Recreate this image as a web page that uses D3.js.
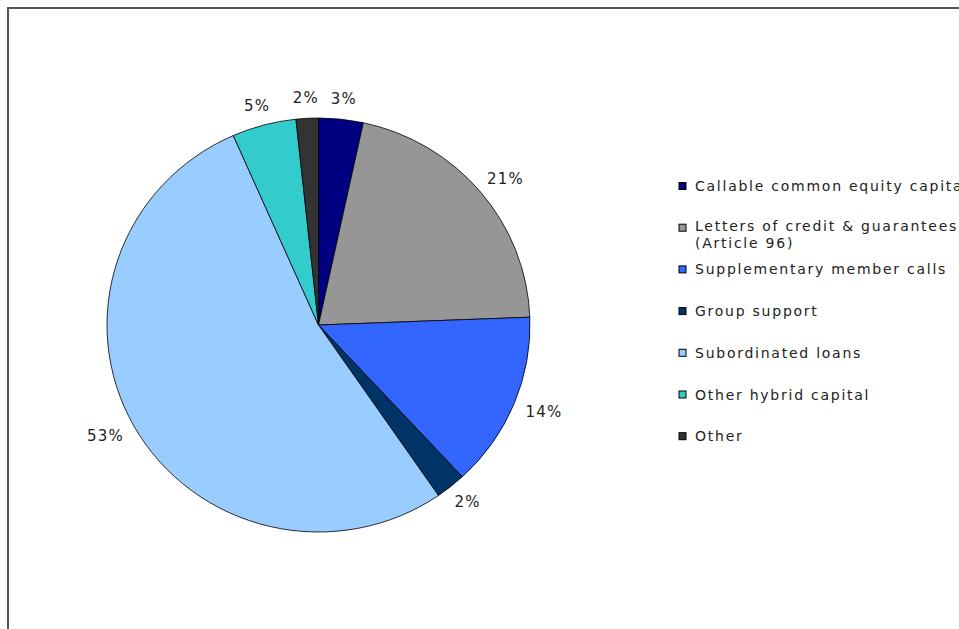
<!DOCTYPE html>
<html>
<head>
<meta charset="utf-8">
<script src="https://cdn.jsdelivr.net/npm/d3@7"></script>
<style>
  html, body { margin: 0; padding: 0; background: #fff; }
  svg { display: block; }
  text { font-family: "DejaVu Sans", Verdana, sans-serif; fill: #222; }
</style>
</head>
<body>
<svg id="chart" width="959" height="629"></svg>
<script>
const categories = [
  "Callable common equity capital",
  "Letters of credit & guarantees|(Article 96)",
  "Supplementary member calls",
  "Group support",
  "Subordinated loans",
  "Other hybrid capital",
  "Other"
];
const values = [3.4, 21.0, 13.7, 2.3, 53.0, 4.9, 1.7];
const colors = ["#000080", "#969696", "#3366FF", "#003366", "#99CCFF", "#33CCCC", "#333333"];

const W = 959, H = 629;
const svg = d3.select("#chart");

// frame
svg.append("rect").attr("x", 8).attr("y", 8).attr("width", W + 10).attr("height", H + 10)
  .attr("fill", "none").attr("stroke", "#555").attr("stroke-width", 2);

const cx = 318.5, cy = 325, Rx = 211.5, Ry = 207;
const total = d3.sum(values);
const pie = d3.pie().sort(null).value(d => d)(values);
const arc = d3.arc().innerRadius(0).outerRadius(Rx);

const g = svg.append("g").attr("transform", `translate(${cx},${cy}) scale(1,${Ry / Rx})`);
g.selectAll("path").data(pie).enter().append("path")
  .attr("d", arc)
  .attr("fill", (d, i) => colors[i])
  .attr("stroke", "#000")
  .attr("stroke-width", 0.8)
  .attr("vector-effect", "non-scaling-stroke");

// labels
const fmt = v => Math.round(v / total * 100) + "%";
const lg = svg.append("g").attr("transform", `translate(${cx},${cy})`);
const gap = 14, h = 12;
pie.forEach((d, i) => {
  const a = (d.startAngle + d.endAngle) / 2;
  const s = Math.sin(a), c = Math.cos(a);
  const t = lg.append("text")
    .attr("text-anchor", "middle")
    .attr("dominant-baseline", "central")
    .attr("font-size", 15)
    .attr("letter-spacing", 1.2)
    .text(fmt(d.value));
  const w = t.node().getComputedTextLength();
  t.attr("x", s * (Rx + gap) + s * w / 2)
   .attr("y", -c * (Ry + gap) - c * h / 2);
});

// legend
const legX = 679, legY0 = 186, legStep = 41.7;
const leg = svg.append("g");
categories.forEach((name, i) => {
  const y = legY0 + i * legStep;
  const lines = name.split("|");
  leg.append("rect").attr("x", legX).attr("y", y - 3.5).attr("width", 7).attr("height", 7)
    .attr("fill", colors[i]).attr("stroke", "#000").attr("stroke-width", 1);
  lines.forEach((ln, k) => {
    leg.append("text").attr("x", legX + 16).attr("y", (lines.length > 1 ? y - 1.5 : y) + k * 16.5)
      .attr("dominant-baseline", "central")
      .attr("font-size", 14)
      .attr("letter-spacing", 1.75)
      .text(ln);
  });
});
</script>
</body>
</html>
